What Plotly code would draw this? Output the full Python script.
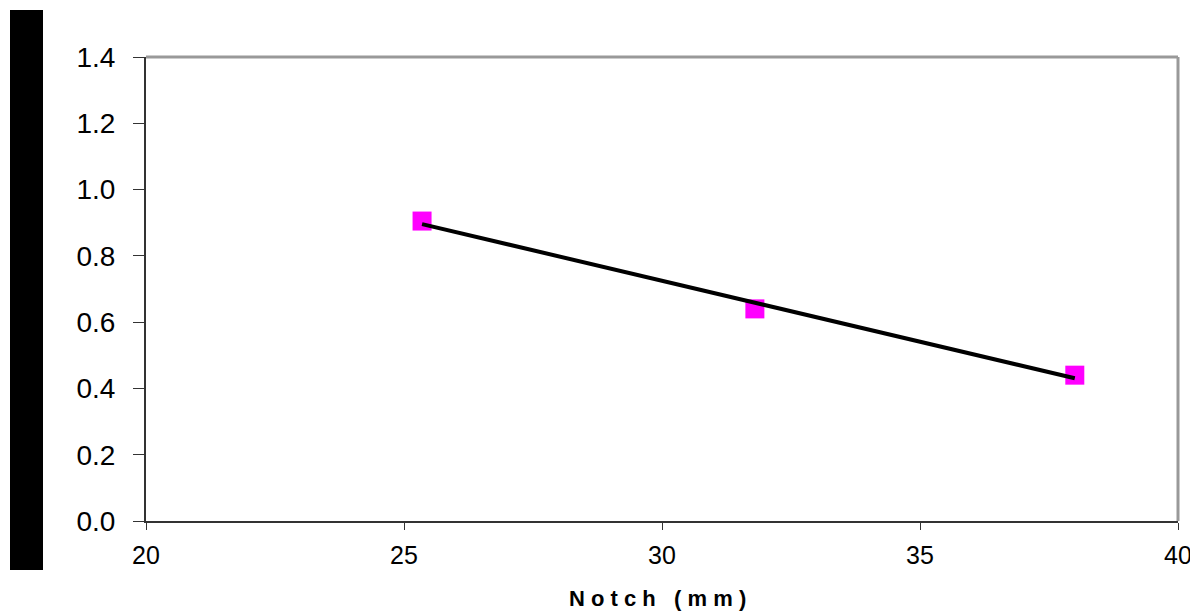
import numpy as np
import plotly.graph_objects as go

notch_mm = [25.35, 31.8, 38.0]
values = [0.905, 0.64, 0.44]
x_ticks = [20, 25, 30, 35, 40]
y_ticks = [0.0, 0.2, 0.4, 0.6, 0.8, 1.0, 1.2, 1.4]
y_tick_labels = ["0.0", "0.2", "0.4", "0.6", "0.8", "1.0", "1.2", "1.4"]

# linear trendline computed from the data
slope, intercept = np.polyfit(notch_mm, values, 1)
trend_x = [min(notch_mm), max(notch_mm)]
trend_y = [slope * v + intercept for v in trend_x]

fig = go.Figure()
fig.add_trace(go.Scatter(
    x=notch_mm, y=values, mode="markers",
    marker=dict(symbol="square", size=19, color="#FF00FF", line=dict(width=0)),
    showlegend=False,
))
fig.add_trace(go.Scatter(
    x=trend_x, y=trend_y, mode="lines",
    line=dict(color="black", width=4),
    showlegend=False,
))

OFF = 8  # default body margin of the page
W, H = 1198 - OFF, 613 - OFF
L, R, T, B = 146 - OFF, 20, 57 - OFF, 92
pw, ph = W - L - R, H - T - B

def px_x(p):
    return (p - OFF - L) / pw

def px_y(p):
    return (OFF + H - B - p) / ph

fig.update_layout(
    width=W, height=H, autosize=False,
    margin=dict(l=L, r=R, t=T, b=B, autoexpand=False),
    paper_bgcolor="white", plot_bgcolor="white",
    font=dict(family="Liberation Sans, Arial, sans-serif", color="black"),
    xaxis=dict(
        range=[20, 40], tickvals=x_ticks, ticktext=[str(v) for v in x_ticks],
        showgrid=False, zeroline=False,
        showline=True, linecolor="#333333", linewidth=2,
        ticks="outside", ticklen=7, tickcolor="#333333", tickwidth=1,
        tickfont=dict(size=25, color="black"),
        ticklabelstandoff=4,
        ticklabeloverflow="allow",
    ),
    yaxis=dict(
        range=[0, 1.4], tickvals=y_ticks, ticktext=y_tick_labels,
        showgrid=False, zeroline=False,
        showline=True, linecolor="#333333", linewidth=2,
        ticks="outside", ticklen=11, tickcolor="#333333", tickwidth=1,
        tickfont=dict(size=28, color="black"),
        ticklabelstandoff=12,
    ),
    shapes=[
        # gray frame top and right
        dict(type="line", xref="paper", yref="paper", x0=0, x1=1, y0=1, y1=1,
             line=dict(color="#999999", width=3), layer="above"),
        dict(type="line", xref="paper", yref="paper", x0=1, x1=1, y0=0, y1=1,
             line=dict(color="#999999", width=3), layer="above"),
        # black block on the left (obscured y title)
        dict(type="rect", xref="paper", yref="paper",
             x0=px_x(10), x1=px_x(43), y0=px_y(570), y1=px_y(10),
             fillcolor="black", line=dict(width=0)),
    ],
    annotations=[
        dict(text="<b>N o t c h   ( m m )</b>", xref="paper", yref="paper",
             x=px_x(657), y=px_y(598), xanchor="center", yanchor="middle",
             showarrow=False, font=dict(size=22, color="black")),
    ],
)

fig.write_html("out.html", config={"responsive": False})
